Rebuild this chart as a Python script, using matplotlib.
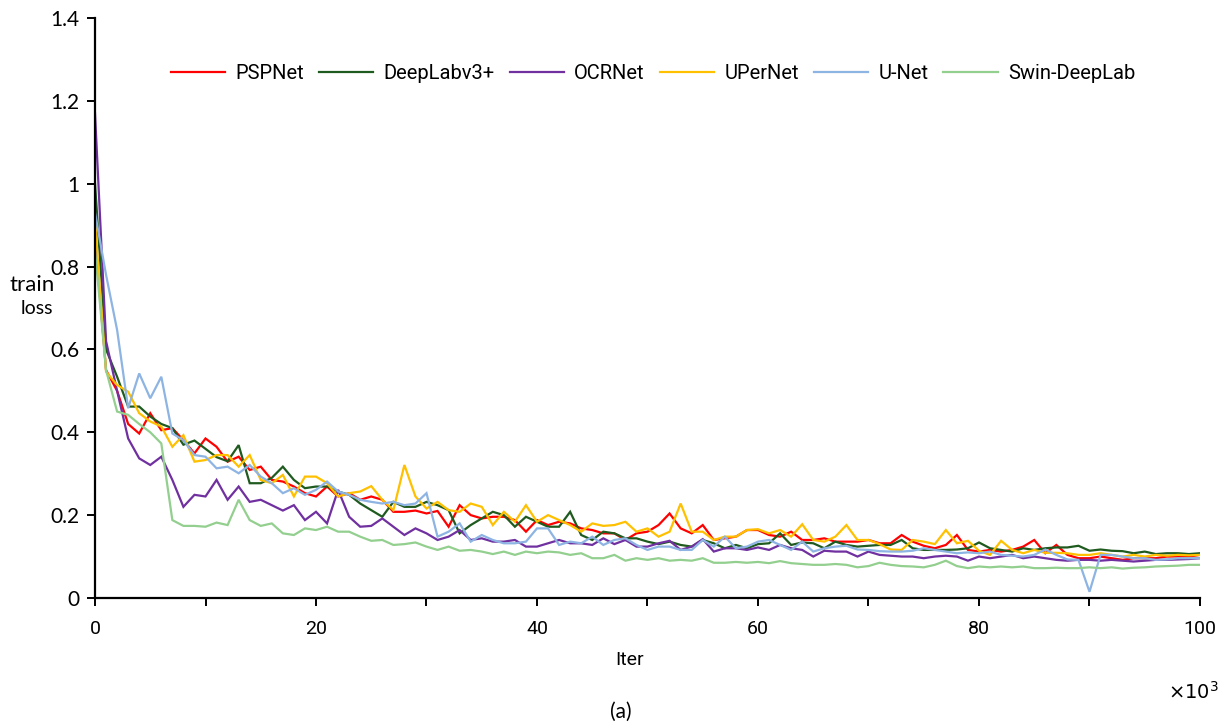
import numpy as np
import matplotlib
matplotlib.use("Agg")
import matplotlib.pyplot as plt
from matplotlib.ticker import FuncFormatter, MultipleLocator

# iteration index (x 10^3)
iters = list(range(0, 101))

pspnet = [0.87, 0.55, 0.50, 0.42, 0.397, 0.446, 0.405, 0.41, 0.381, 0.349,
          0.385, 0.365, 0.329, 0.341, 0.309, 0.317, 0.285, 0.281, 0.269, 0.253,
          0.245, 0.269, 0.245, 0.253, 0.237, 0.245, 0.237, 0.208, 0.208, 0.211,
          0.204, 0.21, 0.172, 0.224, 0.2, 0.192, 0.196, 0.196, 0.188, 0.16,
          0.188, 0.176, 0.184, 0.18, 0.168, 0.164, 0.156, 0.156, 0.14, 0.156,
          0.16, 0.176, 0.204, 0.168, 0.156, 0.176, 0.14, 0.144, 0.148, 0.164,
          0.164, 0.152, 0.148, 0.16, 0.14, 0.14, 0.144, 0.136, 0.136, 0.136,
          0.14, 0.132, 0.132, 0.152, 0.136, 0.126, 0.12, 0.128, 0.152, 0.116,
          0.112, 0.116, 0.112, 0.116, 0.124, 0.14, 0.108, 0.128, 0.104, 0.096,
          0.096, 0.1, 0.096, 0.092, 0.096, 0.096, 0.096, 0.1, 0.1, 0.1, 0.104]

deeplabv3p = [1.0, 0.6, 0.534, 0.462, 0.462, 0.438, 0.42, 0.41, 0.37, 0.38,
              0.36, 0.34, 0.33, 0.369, 0.277, 0.277, 0.29, 0.317, 0.285, 0.265,
              0.269, 0.269, 0.257, 0.249, 0.228, 0.212, 0.196, 0.232, 0.22, 0.22,
              0.232, 0.224, 0.212, 0.156, 0.176, 0.192, 0.208, 0.2, 0.172, 0.196,
              0.184, 0.172, 0.172, 0.208, 0.152, 0.14, 0.16, 0.156, 0.144, 0.144,
              0.136, 0.13, 0.136, 0.128, 0.124, 0.14, 0.132, 0.12, 0.128, 0.12,
              0.13, 0.132, 0.156, 0.128, 0.134, 0.132, 0.12, 0.136, 0.128, 0.124,
              0.126, 0.128, 0.128, 0.14, 0.12, 0.116, 0.116, 0.116, 0.117, 0.12,
              0.134, 0.12, 0.116, 0.112, 0.12, 0.116, 0.12, 0.122, 0.122, 0.126,
              0.114, 0.117, 0.114, 0.113, 0.108, 0.112, 0.106, 0.108, 0.108, 0.106, 0.108]

ocrnet = [1.17, 0.62, 0.50, 0.385, 0.337, 0.321, 0.341, 0.285, 0.22, 0.249,
          0.245, 0.285, 0.237, 0.269, 0.232, 0.237, 0.224, 0.211, 0.224, 0.188,
          0.208, 0.18, 0.261, 0.196, 0.172, 0.174, 0.192, 0.172, 0.152, 0.168,
          0.156, 0.14, 0.148, 0.164, 0.14, 0.144, 0.136, 0.136, 0.14, 0.124,
          0.124, 0.132, 0.14, 0.132, 0.132, 0.128, 0.144, 0.13, 0.14, 0.124,
          0.124, 0.132, 0.138, 0.116, 0.124, 0.142, 0.112, 0.12, 0.12, 0.116,
          0.122, 0.116, 0.128, 0.12, 0.116, 0.1, 0.114, 0.112, 0.112, 0.1,
          0.112, 0.104, 0.102, 0.1, 0.1, 0.096, 0.1, 0.102, 0.1, 0.09,
          0.1, 0.096, 0.1, 0.104, 0.096, 0.1, 0.096, 0.092, 0.09, 0.092,
          0.092, 0.09, 0.092, 0.09, 0.088, 0.09, 0.092, 0.092, 0.093, 0.094, 0.096]

upernet = [0.91, 0.546, 0.514, 0.498, 0.446, 0.426, 0.414, 0.365, 0.393, 0.329,
           0.333, 0.345, 0.345, 0.317, 0.345, 0.285, 0.277, 0.297, 0.245, 0.293,
           0.293, 0.277, 0.245, 0.253, 0.257, 0.27, 0.237, 0.212, 0.321, 0.245,
           0.216, 0.232, 0.212, 0.208, 0.228, 0.22, 0.176, 0.208, 0.184, 0.224,
           0.184, 0.2, 0.188, 0.176, 0.16, 0.18, 0.174, 0.176, 0.184, 0.16,
           0.168, 0.148, 0.16, 0.228, 0.16, 0.16, 0.14, 0.148, 0.148, 0.164,
           0.166, 0.156, 0.164, 0.148, 0.178, 0.14, 0.136, 0.148, 0.176, 0.14,
           0.14, 0.13, 0.117, 0.116, 0.14, 0.136, 0.13, 0.164, 0.132, 0.138,
           0.114, 0.104, 0.138, 0.116, 0.108, 0.116, 0.109, 0.109, 0.108, 0.104,
           0.104, 0.108, 0.104, 0.1, 0.104, 0.1, 0.104, 0.102, 0.104, 0.103, 0.104]

unet = [0.93, 0.78, 0.647, 0.458, 0.542, 0.482, 0.534, 0.397, 0.381, 0.345,
        0.341, 0.313, 0.317, 0.301, 0.321, 0.293, 0.277, 0.253, 0.265, 0.249,
        0.261, 0.281, 0.257, 0.249, 0.237, 0.232, 0.228, 0.232, 0.224, 0.228,
        0.253, 0.148, 0.16, 0.18, 0.136, 0.152, 0.14, 0.132, 0.132, 0.136,
        0.168, 0.168, 0.128, 0.136, 0.132, 0.148, 0.128, 0.14, 0.144, 0.128,
        0.116, 0.124, 0.124, 0.116, 0.116, 0.14, 0.124, 0.148, 0.12, 0.124,
        0.136, 0.14, 0.128, 0.116, 0.136, 0.112, 0.12, 0.124, 0.126, 0.117,
        0.116, 0.113, 0.112, 0.112, 0.114, 0.12, 0.116, 0.112, 0.108, 0.11,
        0.108, 0.112, 0.104, 0.102, 0.1, 0.104, 0.117, 0.104, 0.093, 0.092,
        0.015, 0.104, 0.104, 0.1, 0.096, 0.096, 0.092, 0.093, 0.096, 0.096, 0.096]

swin_deeplab = [0.84, 0.55, 0.45, 0.442, 0.42, 0.40, 0.373, 0.188, 0.174, 0.174,
                0.172, 0.182, 0.176, 0.237, 0.188, 0.174, 0.18, 0.156, 0.152, 0.168,
                0.164, 0.172, 0.16, 0.16, 0.148, 0.138, 0.14, 0.128, 0.13, 0.134,
                0.124, 0.116, 0.124, 0.114, 0.116, 0.112, 0.106, 0.112, 0.104, 0.112,
                0.108, 0.112, 0.11, 0.104, 0.108, 0.096, 0.096, 0.104, 0.09, 0.096,
                0.092, 0.096, 0.09, 0.092, 0.09, 0.096, 0.085, 0.085, 0.087, 0.085,
                0.087, 0.084, 0.089, 0.084, 0.082, 0.08, 0.08, 0.082, 0.08, 0.074,
                0.077, 0.085, 0.08, 0.077, 0.076, 0.074, 0.08, 0.09, 0.077, 0.072,
                0.076, 0.074, 0.076, 0.074, 0.076, 0.072, 0.072, 0.073, 0.072, 0.072,
                0.074, 0.072, 0.074, 0.071, 0.073, 0.074, 0.076, 0.077, 0.078, 0.08, 0.08]

series_names = ["PSPNet", "DeepLabv3+", "OCRNet", "UPerNet", "U-Net", "Swin-DeepLab"]
series_values = [pspnet, deeplabv3p, ocrnet, upernet, unet, swin_deeplab]
series_colors = ["#FF0000", "#1F5A1F", "#7030A0", "#FFC000", "#8DB4E2", "#93CF8E"]

narrow = ["Roboto", "DejaVu Sans"]
body = ["Lato", "Open Sans", "DejaVu Sans"]

fig = plt.figure(figsize=(12.29, 7.28), dpi=100)
ax = fig.add_axes([0.0773, 0.1786, 0.8991, 0.7967])

for name, vals, col in zip(series_names, series_values, series_colors):
    ax.plot(iters, vals, color=col, lw=1.6, label=name, solid_joinstyle="miter")

ax.set_xlim(0, 100)
ax.set_ylim(0, 1.4)
ax.xaxis.set_major_locator(MultipleLocator(20))
ax.xaxis.set_minor_locator(MultipleLocator(10))
ax.yaxis.set_major_locator(MultipleLocator(0.2))
ax.yaxis.set_major_formatter(FuncFormatter(lambda v, p: f"{v:g}"))

for s in ["top", "right"]:
    ax.spines[s].set_visible(False)
for s in ["left", "bottom"]:
    ax.spines[s].set_linewidth(1.6)
    ax.spines[s].set_color("black")

ax.tick_params(axis="both", which="both", direction="out", length=6, width=1.4, color="black")
ax.tick_params(axis="x", which="major", pad=10)
ax.tick_params(axis="y", which="major", pad=5)
for lab in ax.get_xticklabels():
    lab.set_fontfamily(narrow)
    lab.set_fontsize(14)
for lab in ax.get_yticklabels():
    lab.set_fontfamily(body)
    lab.set_fontsize(15)

leg = ax.legend(loc="center", bbox_to_anchor=(0.505, 0.905), ncol=6, frameon=False,
                handlelength=2.7, handletextpad=0.5, columnspacing=0.75,
                prop={"family": narrow, "size": 14.5})

fig.text(0.026, 0.6085, "train", fontsize=16, fontfamily=body, ha="center", va="center")
fig.text(0.030, 0.576, "loss", fontsize=14, fontfamily=body, ha="center", va="center")
fig.text(0.512, 0.093, "Iter", fontsize=14, fontfamily=narrow, ha="center", va="center")
fig.text(0.505, 0.022, "(a)", fontsize=15, fontfamily=body, ha="center", va="center")
fig.text(0.992, 0.05, r"$\times10^{3}$", fontsize=14, ha="right", va="center")

fig.savefig("out.png", dpi=100)
